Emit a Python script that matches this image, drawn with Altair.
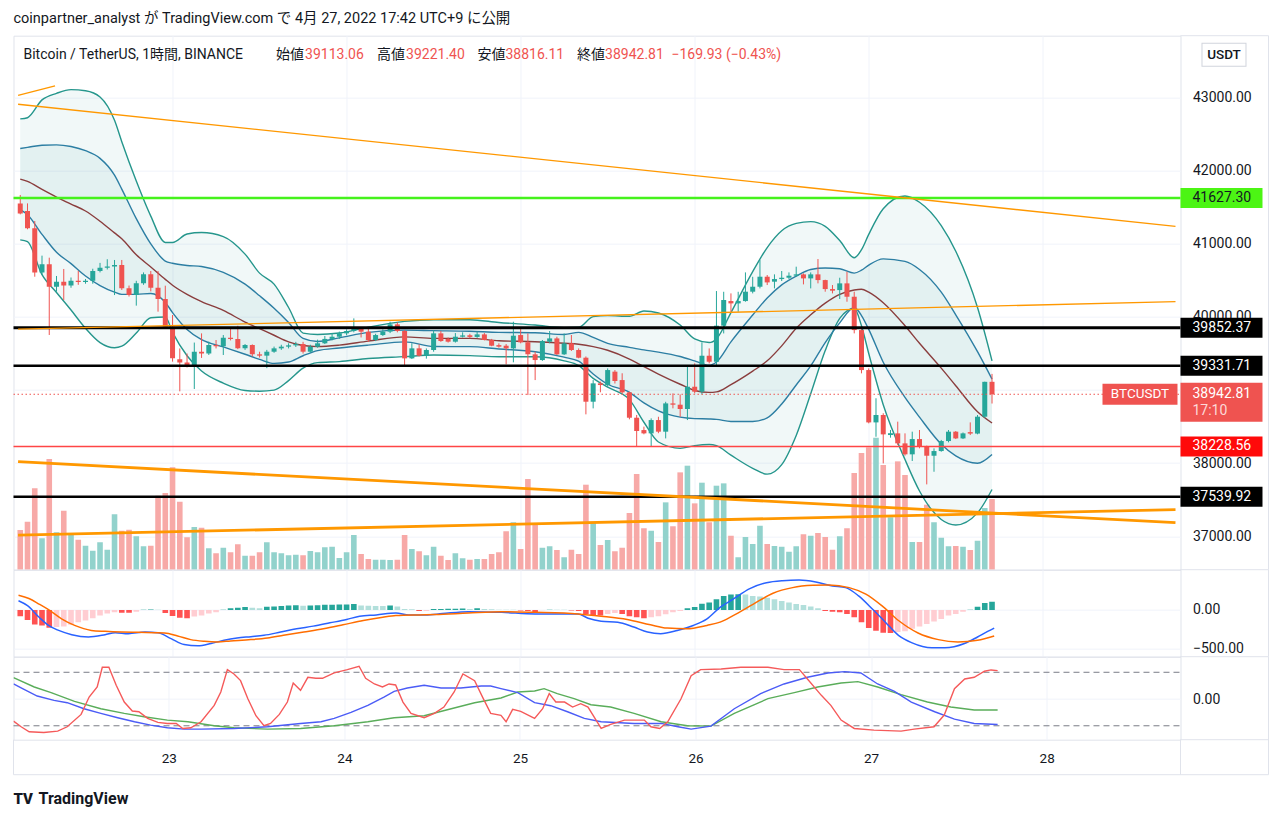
import altair as alt
import pandas as pd

# ---------------- data ----------------
HOURS = list(range(3, 138))   # hours after 22 Apr 00:00

OPEN = [41554,41450,41213,40610,40720,40415,40483,40430,40497,40480,
        40495,40629,40675,40690,40712,40392,40300,40460,40583,40401,
        40246,39867,39421,39379,39343,39525,39502,39617,39600,39717,
        39700,39571,39617,39489,39471,39525,39571,39594,39612,39630,
        39525,39594,39640,39700,39730,39776,39808,39844,39799,39685,
        39753,39800,39899,39808,39434,39571,39470,39548,39776,39700,
        39662,39730,39750,39727,39762,39685,39615,39607,39571,39753,
        39653,39489,39411,39662,39707,39489,39639,39548,39443,38841,
        39092,39069,39252,39137,38969,38622,38453,38408,38590,38431,
        38818,38800,38741,39046,38978,39470,39388,39881,40218,40186,
        40218,40346,40414,40551,40483,40519,40537,40565,40583,40528,
        40583,40505,40382,40368,40460,40277,39821,39274,38558,38659,
        38385,38408,38271,38121,38330,38225,38102,38166,38303,38431,
        38339,38425,38405,38636,39113.06]
HIGH = [41669,41554,41313,40839,40811,40561,40657,40540,40630,40520,
        40660,40740,40790,40780,40780,40430,40495,40610,40629,40629,
        40428,40027,39570,39500,39650,39776,39662,39685,39753,39845,
        39880,39630,39625,39525,39550,39595,39620,39640,39660,39660,
        39620,39690,39740,39780,39800,39830,39981,39860,39845,39770,
        39830,39935,39925,39820,39640,39625,39570,39820,39808,39720,
        39780,39790,39770,39800,39780,39700,39640,39630,39935,39835,
        39775,39525,39685,39808,39730,39775,39753,39570,39460,39137,
        39115,39297,39274,39230,38978,38660,38500,38613,38635,38840,
        38955,38940,39343,39366,39653,39570,40355,40345,40323,40345,
        40610,40550,40779,40574,40583,40629,40610,40688,40597,40610,
        40793,40510,40437,40537,40619,40346,39835,39297,38888,38683,
        38454,38568,38408,38431,38454,38240,38203,38318,38454,38440,
        38420,38558,38659,39115,39221.40]
LOW = [41404,41200,40551,40575,39754,40346,40232,40400,40440,40455,
       40455,40610,40650,40300,40370,40280,40155,40440,40350,40073,
       39840,39389,38983,39310,39015,39440,39480,39570,39480,39680,
       39560,39550,39460,39445,39300,39510,39550,39570,39590,39500,
       39510,39580,39630,39680,39700,39750,39790,39720,39660,39670,
       39740,39780,39790,39320,39425,39460,39430,39525,39660,39650,
       39650,39720,39710,39715,39680,39600,39580,39352,39380,39640,
       38932,39137,39400,39640,39480,39480,39535,39435,38668,38750,
       38970,39050,39090,38955,38600,38225,38395,38225,38410,38339,
       38750,38635,38590,38955,38940,39365,39320,39775,40072,40072,
       40209,40323,40391,40437,40391,40492,40519,40551,40446,40391,
       40460,40346,40323,40246,40209,39776,39229,38545,38362,37997,
       38349,38248,38103,38030,38203,37710,37883,38157,38285,38330,
       38330,38385,38395,38620,38816.11]
CLOSE = [41417,41213,40610,40720,40415,40483,40430,40497,40480,40495,
         40629,40675,40690,40712,40392,40300,40460,40583,40401,40246,
         39867,39434,39379,39343,39525,39502,39617,39600,39717,39700,
         39571,39617,39489,39471,39525,39571,39594,39612,39630,39525,
         39594,39640,39700,39730,39776,39808,39844,39799,39685,39753,
         39800,39899,39808,39434,39571,39470,39548,39776,39671,39662,
         39730,39748,39727,39762,39685,39607,39594,39571,39744,39653,
         39489,39411,39671,39707,39489,39639,39548,39443,38841,39092,
         39069,39274,39124,38969,38622,38440,38408,38590,38431,38818,
         38800,38741,39046,38978,39470,39388,39881,40232,40186,40218,
         40346,40414,40551,40473,40519,40537,40565,40583,40528,40583,
         40505,40382,40360,40460,40277,39821,39274,38558,38659,38394,
         38410,38271,38121,38330,38225,38102,38166,38303,38431,38339,
         38408,38405,38636,39113,38942.81]
VOLUME = [1190,1440,2440,940,3320,1120,1770,1070,900,720,
          570,820,600,1660,1170,1200,1000,700,720,2220,
          2300,3070,2040,970,1280,1260,640,490,660,520,
          760,420,420,520,820,520,490,430,450,430,
          560,520,670,690,350,520,1040,470,320,300,
          300,290,300,1040,620,550,430,690,420,290,
          490,340,300,320,320,470,520,1150,1420,620,
          2720,1400,660,700,590,370,600,470,2550,1420,
          740,890,550,660,1700,2870,1240,1170,830,2020,
          1300,2920,3120,1990,2610,1420,2520,2590,1020,370,
          980,770,1320,770,710,690,540,700,1060,1020,
          1100,980,600,1000,1240,2900,3500,3670,3960,3140,
          1570,3250,2840,830,830,1950,1420,960,700,710,
          690,590,870,1850,2120]

BB_H = [3,4,6,8,10,12,14,16,17,19, 21,23,24,26,28,31,34,36,38,40,
        42,44,47,51,56,60,65,69,74,78, 80,82,84,87,89,91,94,96,98,99,
        101,104,106,108,110,112,114,116,118,119, 120,122,125,127,130,132,135,137]
BB_UPPER2 = [42710,42726,42970,43060,43110,43095,43010,42690,42398,41860,
             41380,41020,41020,41135,41155,41100,40860,40600,40450,40130,
             39780,39760,39780,39860,39940,39963,39963,39925,39890,39855,
             39860,40005,40018,40010,40082,40055,39890,39700,39650,39700,
             40060,40620,40950,41180,41280,41304,41240,41045,40810,40920,
             41130,41480,41655,41570,41250,40900,40130,39400]
BB_UPPER1 = [42305,42320,42350,42355,42332,42275,42170,41940,41750,41345,
             41000,40765,40735,40705,40690,40610,40450,40290,40120,39925,
             39707,39665,39715,39790,39820,39813,39805,39790,39785,39760,
             39790,39720,39640,39585,39550,39520,39460,39400,39340,39385,
             39660,40027,40260,40440,40560,40650,40670,40660,40600,40640,
             40710,40795,40760,40650,40340,40030,39525,39150]
BB_BASIS = [41885,41855,41745,41640,41545,41450,41310,41150,41071,40850,
            40685,40515,40435,40310,40210,40090,39930,39840,39750,39660,
            39610,39595,39615,39670,39728,39708,39707,39675,39662,39640,
            39627,39595,39545,39425,39320,39220,39080,38995,38968,38975,
            39075,39260,39400,39605,39845,40030,40190,40310,40370,40380,
            40340,40195,39880,39640,39300,39060,38704,38550]
BB_LOWER1 = [41470,41400,41130,40885,40730,40560,40430,40340,40309,40309,
             40322,40200,40060,39830,39690,39590,39490,39420,39365,39385,
             39470,39540,39575,39615,39660,39596,39594,39562,39525,39450,
             39395,39220,39080,38970,38825,38715,38630,38610,38605,38600,
             38570,38570,38620,38810,39070,39330,39650,39920,40130,40020,
             39830,39380,38900,38630,38260,38100,38000,38120]
BB_LOWER2 = [41055,41030,40580,40335,40095,39845,39650,39580,39600,39780,
             39990,40000,39790,39470,39260,39095,38995,38985,39000,39130,
             39300,39375,39390,39432,39458,39480,39471,39457,39457,39400,
             39335,39160,39040,38870,38560,38290,38203,38240,38255,38240,
             38110,37930,37850,37980,38380,38950,39540,39980,40120,39880,
             39500,38800,38050,37620,37230,37154,37320,37640]

LEVELS = [41627.30, 39852.37, 39331.71, 38228.56, 37539.92]
LAST_PRICE = 38942.81
COUNTDOWN = "17:10"

TREND_H0 = [2.7, 2.7, 2.7, 2.7, 2.7]
TREND_P0 = [42910, 43030, 39833, 38020, 37015]
TREND_H1 = [162.3, 7.8, 162.3, 162.3, 162.3]
TREND_P1 = [41240, 43160, 40209, 37186, 37364]

MACD_HIST = [-80,-127,-186,-198,-228,-219,-211,-190,-156,-135,
             -105,-72,-46,-30,-34,-36,-21,4,6,3,
             -38,-76,-101,-105,-84,-72,-46,-30,3,21,
             30,38,30,21,42,46,51,59,60,55,
             59,62,66,68,70,72,76,59,55,51,
             50,59,46,13,8,-13,-12,13,14,15,
             17,18,13,21,13,8,4,3,2,-8,
             -13,-30,-4,4,3,2,-8,-13,-51,-63,
             -72,-51,-38,-51,-80,-93,-105,-93,-80,-55,
             -30,-13,21,38,80,97,139,181,198,203,
             198,181,173,156,139,114,97,76,63,46,
             21,-13,-21,-30,-51,-93,-156,-232,-266,-291,
             -295,-283,-274,-241,-211,-181,-148,-114,-72,-51,
             -21,4,42,89,106]
MACD_H = [2.76,4.0,5.6,6.9,8.3,10.1,12.4,14.7,16.1,17.9,20.2,22.0,23.8,25.6,27.5,29.3,
          31.1,32.9,34.8,36.6,38.9,41.1,43.4,45.7,48.0,49.8,52.1,54.8,56.6,58.9,61.2,
          64.8,69.4,74.0,79.9,81.3,83.1,85.4,87.6,89.5,91.3,93.6,95.8,97.7,99.5,101.3,
          103.6,105.9,108.1,110.4,112.7,115.0,116.8,118.6,120.5,122.3,124.1,125.9,
          128.7,130.5,133.2,135.0,136.4,137.3]
MACD_LINE = [118,55,-93,-198,-262,-317,-346,-317,-291,-304,-283,-291,-367,-443,-460,-430,
             -388,-359,-342,-325,-283,-241,-207,-165,-122,-80,-63,-38,-63,-63,-46,
             -21,-30,-51,-51,-105,-143,-156,-219,-283,-304,-262,-198,-114,34,139,
             274,350,376,384,359,308,287,181,13,-156,-325,-418,
             -485,-485,-430,-346,-274,-232]
SIGNAL_H = [2.76,4.2,5.6,6.9,8.7,10.5,12.8,14.7,17.0,19.2,21.5,22.9,24.7,26.5,28.4,30.2,
            32.0,34.8,37.1,39.3,42.1,44.8,47.5,50.3,53.0,54.8,58.0,60.2,64.8,69.4,74.0,
            79.9,83.1,86.7,89.9,92.2,94.9,97.7,99.5,101.3,104.1,106.8,109.5,112.3,114.5,
            117.3,119.6,121.8,124.1,126.8,129.6,132.3,135.0,137.3]
SIGNAL_LINE = [190,148,76,4,-114,-198,-262,-274,-283,-287,-291,-295,-333,-380,-401,-409,
               -397,-380,-359,-325,-283,-241,-190,-135,-93,-72,-63,-59,-38,-21,-30,
               -51,-80,-122,-190,-232,-241,-198,-156,-72,76,215,287,316,321,
               287,203,55,-135,-295,-380,-409,-388,-333]

RCI_SHORT_H = [2.76,3.8,4.9,6.9,8.8,10.1,12.0,13.1,14.2,14.9,15.8,16.8,17.9,19.0,19.9,21.1,
               22.5,23.8,25.0,25.9,27.0,28.4,30.2,31.1,32.0,32.9,33.8,34.8,35.9,37.0,37.9,
               39.1,40.2,41.0,42.0,43.0,44.1,45.0,46.6,48.4,50.0,50.9,52.1,53.2,54.1,55.0,
               56.0,57.1,58.9,60.3,61.6,63.0,64.2,65.8,66.9,68.0,69.4,70.1,71.0,72.1,74.0,
               75.1,76.0,76.9,78.1,79.2,80.3,81.3,83.1,84.4,86.3,89.0,89.9,91.1,92.2,94.0,
               95.4,96.7,99.5,102.2,105.9,108.1,110.2,111.3,113.2,114.5,115.9,117.7,120.4,
               124.1,125.9,128.6,130.0,131.4,132.8,134.1,135.5,136.4,137.3]
RCI_SHORT = [-66,-83,-98,-100,-96,-83,-46,6,36,95,95,41,-9,-36,-38,-58,
             -70,-73,-73,-88,-86,-68,-19,21,88,75,55,1,-50,-80,-73,
             -46,-9,48,26,65,62,62,78,88,98,62,45,36,45,42,
             -9,-43,-56,-43,-24,21,75,55,5,-43,-49,-68,-31,-37,-58,
             -29,16,-9,-9,-24,-14,-24,-88,-76,-63,-63,-83,-88,-68,0,
             70,88,90,95,95,88,88,60,11,-19,-63,-88,-93,
             -96,-90,-83,-48,31,60,65,83,87,85]
RCI_MID_H = [2.76,4.0,6.0,8.3,10.1,12.4,14.7,17.0,19.3,21.5,23.8,26.1,28.4,32.9,37.5,42.0,
             44.8,46.6,48.9,51.2,53.4,54.8,56.6,58.9,61.2,63.9,66.7,68.0,69.4,71.7,74.0,
             76.2,78.5,80.8,83.1,87.6,91.3,93.6,95.4,98.1,101.3,104.9,108.1,111.3,114.1,
             116.4,118.6,120.9,123.2,125.5,128.7,131.4,134.1,137.3]
RCI_MID = [45,31,9,-4,-11,-29,-43,-56,-68,-78,-86,-90,-90,-88,-83,-73,
           -68,-58,-40,-19,6,23,33,41,33,33,39,39,31,19,-11,
           -20,-38,-58,-68,-73,-73,-83,-90,-81,-29,16,45,65,78,
           82,78,45,23,-9,-38,-60,-73,-76]
RCI_LONG_H = [2.76,5.6,7.9,11.1,14.7,17.9,20.6,23.8,26.6,30.2,32.9,37.5,42.0,46.6,51.2,
              54.8,58.9,62.6,65.8,69.4,71.7,74.0,75.3,77.1,79.4,81.7,84.4,87.6,91.3,94.9,
              98.1,101.3,105.9,109.5,112.7,115.9,118.2,120.9,124.1,127.7,130.9,134.1,137.3]
RCI_LONG = [64,36,19,-7,-29,-43,-53,-63,-68,-80,-86,-90,-88,-80,-68,
            -56,-50,-29,-11,3,21,24,31,16,1,-17,-24,-43,-68,-80,
            -81,-43,1,19,36,48,52,36,13,-9,-24,-33,-33]

DAY_TICKS = [24, 48, 72, 96, 120, 144]

# ---------------- style ----------------
W, H1, H2, H3 = 1167, 534, 87, 83
AX = 88
FONT = "Roboto, 'Noto Sans CJK JP', sans-serif"
TXT = "#131722"
UP, DN = "#26a69a", "#ef5350"
BORDER = "#e0e3eb"
ONE = pd.DataFrame({"k": [0]})

xs = alt.Scale(domain=[2.76, 162.3], nice=False, zero=False)
x_hidden = alt.Axis(values=DAY_TICKS, labels=False, ticks=False, domain=False,
                    grid=True, title=None)
x_bottom = alt.Axis(values=DAY_TICKS, labelExpr="'' + (22 + datum.value / 24)",
                    ticks=False, domain=False, grid=True, title=None, labelPadding=12,
                    labelFontSize=13.5, labelColor=TXT, labelFont=FONT)


def X(field="h", axis=x_hidden):
    return alt.X(f"{field}:Q", scale=xs, axis=axis)


ys = alt.Scale(domain=[36543, 43848], nice=False, zero=False)
y_axis = alt.Axis(orient="right", values=list(range(37000, 44000, 1000)), format=".2f",
                  title=None, grid=True)


def Y(field):
    return alt.Y(f"{field}:Q", scale=ys, axis=y_axis)


def txt(s, x, y, color=TXT, size=14, weight="normal", align="left", baseline="middle"):
    return alt.Chart(pd.DataFrame({"t": [s]})).mark_text(
        align=align, baseline=baseline, color=color, fontSize=size,
        fontWeight=weight, font=FONT).encode(x=alt.value(x), y=alt.value(y), text="t:N")


def vline(x, y0, y1):
    return alt.Chart(ONE).mark_rule(color=BORDER, strokeWidth=1).encode(
        x=alt.value(x), y=alt.value(y0), y2=alt.value(y1))


def hline(y, x0, x1):
    return alt.Chart(ONE).mark_rule(color=BORDER, strokeWidth=1).encode(
        y=alt.value(y), x=alt.value(x0), x2=alt.value(x1))


# ---------------- main pane ----------------
cdf = pd.DataFrame({"h": HOURS, "o": OPEN, "hi": HIGH, "lo": LOW, "c": CLOSE,
                    "vol": VOLUME})
cdf["z"] = 0
updown = alt.condition("datum.c >= datum.o", alt.value(UP), alt.value(DN))
vol_color = alt.condition("datum.c >= datum.o", alt.value("#92d2cc"), alt.value("#f7a9a7"))

volume = alt.Chart(cdf).mark_bar(width=5.6, clip=True).encode(
    x=X(), y=alt.Y("vol:Q", scale=alt.Scale(domain=[0, 16020], nice=False), axis=None),
    y2="z:Q", color=vol_color)

bdf = pd.DataFrame({"h": BB_H, "u2": BB_UPPER2, "u1": BB_UPPER1, "m": BB_BASIS,
                    "l1": BB_LOWER1, "l2": BB_LOWER2})
layers = [
    alt.Chart(bdf).mark_area(color="#0e8f86", opacity=0.06, interpolate="monotone",
                             clip=True).encode(x=X(), y=Y("u2"), y2="l2:Q"),
    alt.Chart(bdf).mark_area(color="#0e8f86", opacity=0.06, interpolate="monotone",
                             clip=True).encode(x=X(), y=Y("u1"), y2="l1:Q"),
]
for f, col in [("u2", "#25968c"), ("l2", "#25968c"), ("u1", "#2c7ea3"),
               ("l1", "#2c7ea3"), ("m", "#8a3d3d")]:
    layers.append(alt.Chart(bdf).mark_line(color=col, strokeWidth=1.4,
                                           interpolate="monotone", clip=True)
                  .encode(x=X(), y=Y(f)))

layers.append(alt.Chart(cdf).mark_rule(strokeWidth=1, clip=True).encode(
    x=X(), y=Y("lo"), y2="hi:Q", color=updown))
layers.append(alt.Chart(cdf).mark_bar(width=5, clip=True).encode(
    x=X(), y=Y("o"), y2="c:Q", color=updown))

LEVEL_COLORS = ["#45f21c", "#000000", "#000000", "#ff4545", "#000000"]
LEVEL_WIDTHS = [2.5, 3, 2.5, 1.6, 2.5]
BOX_COLORS = ["#4cf514", "#000000", "#000000", "#ff0a0a", "#000000"]
BOX_TEXT = [TXT, "#ffffff", "#ffffff", "#ffffff", "#ffffff"]
for lv, col, w in zip(LEVELS, LEVEL_COLORS, LEVEL_WIDTHS):
    layers.append(alt.Chart(pd.DataFrame({"p": [lv]})).mark_rule(color=col, strokeWidth=w)
                  .encode(y=Y("p"), x=alt.value(0), x2=alt.value(W)))

tdf = pd.DataFrame({"h0": TREND_H0, "p0": TREND_P0, "h1": TREND_H1, "p1": TREND_P1})
for i, w in enumerate([1.3, 1.3, 1.3, 2.8, 2.8]):
    layers.append(alt.Chart(tdf.iloc[[i]]).mark_rule(color="#ff9800", strokeWidth=w,
                                                     clip=True)
                  .encode(x=X("h0"), x2="h1:Q", y=Y("p0"), y2="p1:Q"))

pdf = pd.DataFrame({"p": [LAST_PRICE], "t": [f"{LAST_PRICE:.2f}"], "cd": [COUNTDOWN],
                    "n": ["BTCUSDT"]})
layers.append(alt.Chart(pdf).mark_rule(color=DN, strokeWidth=1, strokeDash=[1.5, 2.5])
              .encode(y=Y("p"), x=alt.value(0), x2=alt.value(W)))

# frame pieces in the price-scale area
layers += [hline(0, W, W + AX), vline(W + AX, 0, H1), hline(H1, W, W + AX)]

# price boxes on the right axis
for lv, bc, tc in zip(LEVELS, BOX_COLORS, BOX_TEXT):
    d = pd.DataFrame({"p": [lv], "t": [f"{lv:.2f}"]})
    layers.append(alt.Chart(d).mark_rule(color=bc, strokeWidth=20, strokeCap="butt")
                  .encode(y=Y("p"), x=alt.value(W), x2=alt.value(W + 82)))
    layers.append(alt.Chart(d).mark_text(align="left", baseline="middle", color=tc,
                                         fontSize=14, font=FONT)
                  .encode(y=Y("p"), x=alt.value(W + 12), text="t:N"))

layers.append(alt.Chart(pdf).mark_rule(color=DN, strokeWidth=39, strokeCap="butt", yOffset=8)
              .encode(y=Y("p"), x=alt.value(W), x2=alt.value(W + 82)))
layers.append(alt.Chart(pdf).mark_text(align="left", baseline="middle", color="#ffffff",
                                       fontSize=14, font=FONT)
              .encode(y=Y("p"), x=alt.value(W + 12), text="t:N"))
layers.append(alt.Chart(pdf).mark_text(align="left", baseline="middle", color="#fcd9d8",
                                       fontSize=14, font=FONT, dy=17)
              .encode(y=Y("p"), x=alt.value(W + 12), text="cd:N"))
layers.append(alt.Chart(pdf).mark_rule(color=DN, strokeWidth=21, strokeCap="butt")
              .encode(y=Y("p"), x=alt.value(W - 78), x2=alt.value(W - 3)))
layers.append(alt.Chart(pdf).mark_text(align="center", baseline="middle", color="#ffffff",
                                       fontSize=13.5, font=FONT)
              .encode(y=Y("p"), x=alt.value(W - 40.5), text="n:N"))

# USDT badge
layers.append(alt.Chart(ONE).mark_rule(color="#d1d4dc", strokeWidth=24, strokeCap="butt")
              .encode(y=alt.value(19), x=alt.value(W + 21), x2=alt.value(W + 66)))
layers.append(alt.Chart(ONE).mark_rule(color="#ffffff", strokeWidth=22, strokeCap="butt")
              .encode(y=alt.value(19), x=alt.value(W + 22), x2=alt.value(W + 65)))
layers.append(txt("USDT", W + 43.5, 19, size=13.5, weight=500, align="center"))

# header texts
layers.append(txt("coinpartner_analyst が TradingView.com で 4月 27, 2022 17:42 UTC+9 に公開",
                  0, -23.5, size=14.5, baseline="top"))
layers.append(txt("Bitcoin / TetherUS, 1時間, BINANCE", 10, 19))
for lab, x0, val, x1 in [("始値", 262.5, "39113.06", 291.6), ("高値", 363.5, "39221.40", 392.6),
                         ("安値", 464, "38816.11", 492), ("終値", 563.5, "38942.81", 591.6)]:
    layers.append(txt(lab, x0, 19))
    layers.append(txt(val, x1, 19, color=DN))
layers.append(txt("−169.93 (−0.43%)", 658, 19, color=DN))

price = alt.layer(*layers)
main = alt.layer(volume, price).resolve_scale(y="independent").properties(width=W, height=H1)

# ---------------- MACD pane ----------------
prev = [0] + MACD_HIST[:-1]
cats = []
for v, p in zip(MACD_HIST, prev):
    if v >= 0:
        cats.append("pu" if v >= p else "pd")
    else:
        cats.append("nd" if v < p else "nu")
hdf = pd.DataFrame({"h": HOURS, "v": MACD_HIST, "cat": cats})
hdf["z"] = 0
ms = alt.Scale(domain=[-599, 517], nice=False, zero=False)
m_axis = alt.Axis(orient="right", values=[0, -500],
                  labelExpr="replace(format(datum.value, '.2f'), '-', '−')",
                  title=None, grid=True)
macd_layers = [
    alt.Chart(hdf).mark_bar(width=5.6, clip=True).encode(
        x=X(), y=alt.Y("v:Q", scale=ms, axis=m_axis), y2="z:Q",
        color=alt.Color("cat:N", scale=alt.Scale(domain=["pu", "pd", "nu", "nd"],
                                                 range=["#26a69a", "#b2dfdb", "#ffcdd2", "#ff5252"]),
                        legend=None)),
    alt.Chart(pd.DataFrame({"h": MACD_H, "v": MACD_LINE})).mark_line(
        color="#2962ff", strokeWidth=1.5, interpolate="monotone", clip=True).encode(
        x=X(), y=alt.Y("v:Q", scale=ms, axis=m_axis)),
    alt.Chart(pd.DataFrame({"h": SIGNAL_H, "v": SIGNAL_LINE})).mark_line(
        color="#ff6d00", strokeWidth=1.5, interpolate="monotone", clip=True).encode(
        x=X(), y=alt.Y("v:Q", scale=ms, axis=m_axis)),
    vline(W + AX, 0, H2), hline(H2, W, W + AX),
]
macd = alt.layer(*macd_layers).properties(width=W, height=H2)

# ---------------- RCI pane ----------------
rs = alt.Scale(domain=[-121.6, 126.6], nice=False, zero=False)
r_axis = alt.Axis(orient="right", values=[0], format=".2f", title=None, grid=True)
rci_layers = [
    alt.Chart(pd.DataFrame({"v": [80, -80]})).mark_rule(
        color="#787b86", strokeWidth=1, strokeDash=[6, 4]).encode(
        y=alt.Y("v:Q", scale=rs, axis=r_axis), x=alt.value(0), x2=alt.value(W)),
]
for hh, vv, col in [(RCI_LONG_H, RCI_LONG, "#5aad5a"), (RCI_MID_H, RCI_MID, "#4b5cf6"),
                    (RCI_SHORT_H, RCI_SHORT, "#f55a5a")]:
    rci_layers.append(alt.Chart(pd.DataFrame({"h": hh, "v": vv})).mark_line(
        color=col, strokeWidth=1.4, clip=True).encode(
        x=X(axis=x_bottom), y=alt.Y("v:Q", scale=rs, axis=r_axis)))
rci_layers += [
    vline(W + AX, 0, H3 + 35), hline(H3, W, W + AX), hline(H3 + 35, 0, W + AX),
    vline(0, H3, H3 + 35), vline(W, H3, H3 + 35),
    txt("TV", 0, H3 + 59, size=15, weight=900),
    txt("TradingView", 25, H3 + 59, size=16, weight="bold"),
]
rci = alt.layer(*rci_layers).properties(width=W, height=H3)

# thick horizontal rules (price boxes) inflate the layout bounds by half their
# stroke width; the negative right padding trims that empty margin again.
chart = alt.vconcat(main, macd, rci, spacing=0, bounds="flush").properties(
    padding={"left": 3.5, "right": -13, "top": 2.7, "bottom": 0}, background="white"
).configure_view(stroke=BORDER, strokeWidth=1).configure_axis(
    gridColor="#f0f3fa", gridWidth=1, labelFont="Roboto", labelFontSize=14,
    labelColor=TXT, domain=False, ticks=False, labelPadding=12, labelOverlap=False,
    labelFlush=False)

chart.save("out.html", embed_options={"renderer": "svg", "actions": False})
